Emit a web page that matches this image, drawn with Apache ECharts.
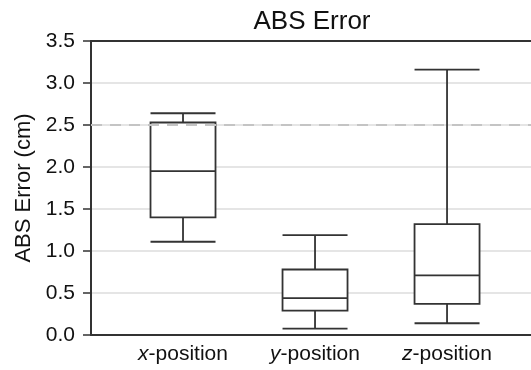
<!DOCTYPE html>
<html>
<head>
<meta charset="utf-8">
<script src="https://cdn.jsdelivr.net/npm/echarts@6/dist/echarts.min.js"></script>
<style>html,body{margin:0;padding:0;background:#fff;}#c{width:531px;height:370px;}</style>
</head>
<body>
<div id="c"></div>
<script>
const categories = ['x', 'y', 'z'];
const lowerWhisker = [1.11, 0.075, 0.14];
const q1 = [1.40, 0.29, 0.37];
const median = [1.95, 0.44, 0.71];
const q3 = [2.53, 0.78, 1.32];
const upperWhisker = [2.64, 1.19, 3.16];
const yTicks = [0, 0.5, 1.0, 1.5, 2.0, 2.5, 3.0, 3.5];
const refLine = [2.5];

const boxData = categories.map((c, i) => [i, lowerWhisker[i], q1[i], median[i], q3[i], upperWhisker[i]]);

const chart = echarts.init(document.getElementById('c'), null, {renderer: 'canvas'});
const font = 'Liberation Sans, Arial, sans-serif';
chart.setOption({
  animation: false,
  backgroundColor: '#fff',
  title: {
    text: 'ABS Error',
    left: 307, textAlign: 'center', top: 4,
    textStyle: {fontFamily: font, fontSize: 26, fontWeight: 'normal', color: '#111'}
  },
  grid: {left: 91, right: 0, top: 41, bottom: 35, show: false},
  xAxis: [{
    type: 'value', min: -0.697, max: 2.636,
    axisLine: {show: true, onZero: false, lineStyle: {color: '#333', width: 2}},
    axisTick: {show: false},
    splitLine: {show: false},
    axisLabel: {
      customValues: [0, 1, 2],
      margin: 9,
      fontFamily: font, fontSize: 21, color: '#111',
      formatter: function (v) {
        const i = Math.round(v);
        if (Math.abs(v - i) > 1e-6 || i < 0 || i >= categories.length) return '';
        return '{i|' + categories[i] + '}-position';
      },
      rich: {i: {fontStyle: 'italic', fontFamily: font, fontSize: 21, color: '#111'}}
    }
  }, {
    type: 'value', min: -0.697, max: 2.636, position: 'top',
    axisLine: {show: true, onZero: false, lineStyle: {color: '#333', width: 2}},
    axisTick: {show: false}, axisLabel: {show: false}, splitLine: {show: false}
  }],
  yAxis: {
    type: 'value', min: yTicks[0], max: yTicks[yTicks.length - 1], interval: 0.5,
    name: 'ABS Error (cm)', nameLocation: 'middle', nameGap: 54,
    nameTextStyle: {fontFamily: font, fontSize: 22, color: '#111'},
    axisLine: {show: true, onZero: false, lineStyle: {color: '#333', width: 2}},
    axisTick: {show: true, length: 8, lineStyle: {color: '#333', width: 1.5}},
    splitLine: {show: true, lineStyle: {color: '#dcdcdc', width: 1.5}},
    axisLabel: {margin: 16, fontFamily: font, fontSize: 21, color: '#111', formatter: v => v.toFixed(1)}
  },
  series: [{
    type: 'boxplot',
    xAxisIndex: 0,
    data: boxData,
    boxWidth: [65, 65],
    itemStyle: {color: '#fff', borderColor: '#333', borderWidth: 1.8},
    emphasis: {disabled: true},
    markLine: {
      silent: true, symbol: 'none', label: {show: false},
      lineStyle: {color: '#c4c4c4', type: [11, 8], width: 2},
      data: refLine.map(v => ({yAxis: v}))
    }
  }]
});
</script>
</body>
</html>
